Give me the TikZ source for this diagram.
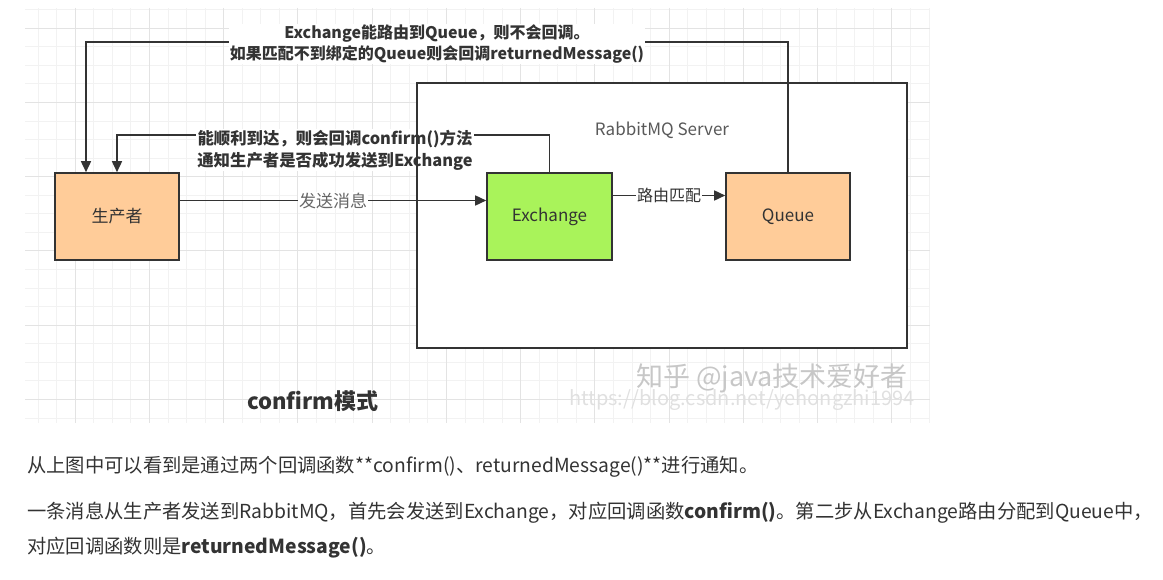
\documentclass[tikz,border=0pt]{standalone}
\usepackage{fontspec}
\setmainfont{Noto Sans CJK SC}
\usetikzlibrary{arrows.meta}
\definecolor{ink}{HTML}{333333}
\definecolor{peach}{HTML}{FFCC99}
\definecolor{lime}{HTML}{A9F35A}
\begin{document}
\begin{tikzpicture}
            [x=1pt,y=-1pt,
             box/.style={draw=ink,line width=1.6pt,minimum width=124pt,minimum height=87pt,text=ink,font=\fontsize{17}{19}\selectfont},
             flow/.style={draw=ink,line width=1.6pt,-{Triangle[length=11pt,width=10pt]}},
             lbl/.style={fill=white,inner sep=1pt,text=ink,align=center,font=\bfseries\fontsize{16}{21}\selectfont},
             gminor/.style={draw=black!5,line width=0.6pt},
             gmajor/.style={draw=black!11,line width=0.8pt},
             para/.style={anchor=base west,inner sep=0pt,text=ink,font=\fontsize{19.3}{21}\selectfont}]
            \useasboundingbox (0,0) rectangle (1163,580);
            % grid background
            \foreach \k in {2,...,50} \draw[gminor] ({0.75+18.5625*\k},8) -- ({0.75+18.5625*\k},423);
            \foreach \k in {-1,...,21} \draw[gminor] (25,{28+18.5625*\k}) -- (930,{28+18.5625*\k});
            \foreach \k in {1,...,12} \draw[gmajor] ({0.75+74.25*\k},8) -- ({0.75+74.25*\k},423);
            \foreach \k in {0,...,5} \draw[gmajor] (25,{28+74.25*\k}) -- (930,{28+74.25*\k});

            \node[fill=white,minimum width=490pt,minimum height=265pt] (srv) at (662,215.5) {};
            \node[text=black!65,font=\fontsize{17}{19}\selectfont] (srvname) at (662,130) {RabbitMQ Server};

            \node[box,fill=peach] (prod) at (117,216.5) {生产者};
            \node[box,fill=lime,minimum width=125pt] (ex) at (549.5,216.5) {Exchange};
            \node[box,fill=peach] (queue) at (788,216.5) {Queue};

            \coordinate (cfm) at (117,135);
            \coordinate (ret) at (86,42);
            \draw[flow] ([yshift=16pt]prod.east) -- node[fill=white,inner sep=1pt,text=black!60,font=\fontsize{17}{19}\selectfont] (send) {发送消息} ([yshift=16pt]ex.west);
            \draw[flow] ([yshift=21pt]ex.east) -- node[fill=white,inner sep=1pt,text=ink,font=\fontsize{16}{18}\selectfont] (route) {路由匹配} ([yshift=21pt]queue.west);
            \draw[flow] (ex.north) |- (cfm) -- (prod.north);
            \draw[flow] (queue.north) |- (ret) -- ([xshift=-31pt]prod.north);
            \node[lbl,font=\bfseries\fontsize{16.4}{22}\selectfont] (cfmtext) at (335,150) {能顺利到达，则会回调confirm()方法\\通知生产者是否成功发送到Exchange};
            \node[lbl] (rettext) at (437,44) {Exchange能路由到Queue，则不会回调。\\如果匹配不到绑定的Queue则会回调returnedMessage()};
            \draw[ink,line width=1.6pt] (srv.north west) rectangle (srv.south east);

            \node[text=ink,font=\bfseries\fontsize{22}{24}\selectfont] (mode) at (313,401) {confirm模式};
            \node[text=black!22,font=\fontsize{27}{30}\selectfont] (mark) at (772,378) {知乎 @java技术爱好者};
            \node[text=black!12,font=\fontsize{20}{22}\selectfont] (url) at (742,400) {https://blog.csdn.net/yehongzhi1994};

            \node[para] (p1) at (27,472) {从上图中可以看到是通过两个回调函数**confirm()、returnedMessage()**进行通知。};
            \node[para] (p2) at (27,518) {一条消息从生产者发送到RabbitMQ，首先会发送到Exchange，对应回调函数\textbf{confirm()}。第二步从Exchange路由分配到Queue中，};
            \node[para] (p3) at (27,553) {对应回调函数则是\textbf{returnedMessage()}。};

        \end{tikzpicture}
\end{document}
